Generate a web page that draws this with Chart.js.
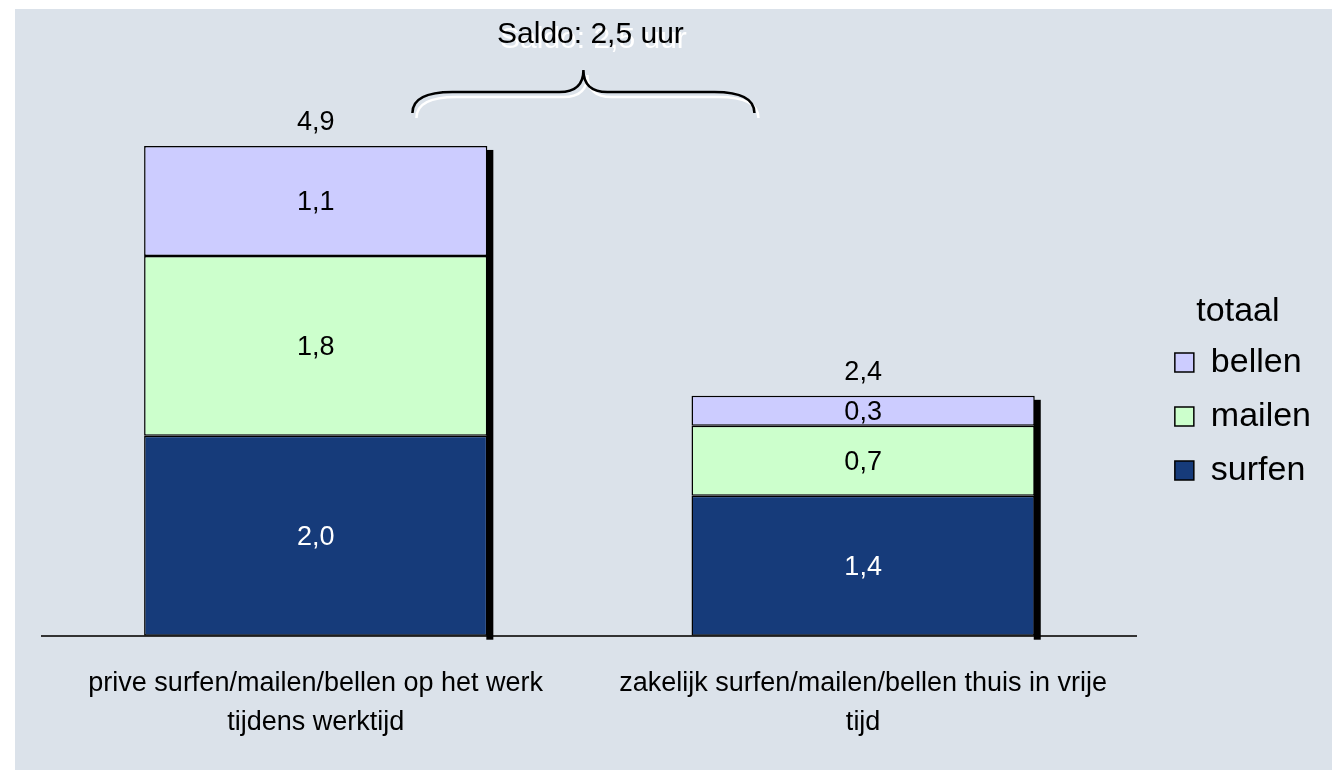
<!DOCTYPE html>
<html>
<head>
<meta charset="utf-8">
<script src="https://cdn.jsdelivr.net/npm/chart.js@4.4.1/dist/chart.umd.min.js"></script>
<style>
  body { margin: 0; background: #ffffff; }
  #wrap { width: 1332px; height: 770px; }
</style>
</head>
<body>
<div id="wrap"><canvas id="chart" width="1332" height="770"></canvas></div>
<script>
// gegevens uit de grafiek (uren per week)
const categories = [
    ['prive surfen/mailen/bellen op het werk', 'tijdens werktijd'],
    ['zakelijk surfen/mailen/bellen thuis in vrije', 'tijd']
];
const surfen = [2.0, 1.4];
const mailen = [1.8, 0.7];
const bellen = [1.1, 0.3];
const totals = [4.9, 2.4];
const saldo = 2.5;
const legendTitle = 'totaal';

const fmt = v => v.toFixed(1).replace('.', ',');
const FONT = '"Liberation Sans", Arial, sans-serif';
Chart.defaults.font.family = FONT;
Chart.defaults.color = '#000';

// achtergrond van het grafiekvlak
const backgroundPlugin = {
    id: 'bg',
    beforeDraw(chart) {
        const ctx = chart.ctx;
        ctx.save();
        ctx.fillStyle = '#dbe2ea';
        ctx.fillRect(15, 9, chart.width - 15, chart.height - 9);
        ctx.restore();
    }
};

// zwarte schaduw rechts van elke staaf
const shadowPlugin = {
    id: 'shadow',
    beforeDatasetsDraw(chart) {
        const ctx = chart.ctx;
        const first = chart.getDatasetMeta(0).data;
        const last = chart.getDatasetMeta(chart.data.datasets.length - 1).data;
        ctx.save();
        ctx.fillStyle = '#000';
        first.forEach((bar, i) => {
            const top = last[i].y;
            const right = bar.x + bar.width / 2;
            ctx.fillRect(right - 1, top + 4, 7, bar.base - top + 0);
        });
        ctx.restore();
    }
};

// waarden in de segmenten en totalen boven de staven
const labelPlugin = {
    id: 'labels',
    afterDatasetsDraw(chart) {
        const ctx = chart.ctx;
        ctx.save();
        ctx.font = '27px ' + FONT;
        ctx.textAlign = 'center';
        ctx.textBaseline = 'middle';
        chart.data.datasets.forEach((ds, d) => {
            chart.getDatasetMeta(d).data.forEach((bar, i) => {
                ctx.fillStyle = d === 0 ? '#ffffff' : '#000000';
                ctx.fillText(fmt(ds.data[i]), bar.x, (bar.y + bar.base) / 2 + 2);
            });
        });
        const top = chart.getDatasetMeta(chart.data.datasets.length - 1).data;
        ctx.fillStyle = '#000';
        top.forEach((bar, i) => {
            ctx.fillText(fmt(totals[i]), bar.x, bar.y - 23);
        });
        ctx.restore();
    }
};

// accolade met saldo
const bracePlugin = {
    id: 'brace',
    afterDraw(chart) {
        const ctx = chart.ctx;
        const area = chart.chartArea;
        const y = chart.scales.y;
        const cx = (area.left + area.right) / 2 - 6;
        const half = 171;
        const yTop = y.getPixelForValue(Math.max(...totals));
        const yEnd = yTop - 33, yLine = yTop - 54, yTip = yTop - 76;
        const L = cx - half, R = cx + half;
        function brace(dx, dy, color) {
            ctx.beginPath();
            ctx.moveTo(L + dx, yEnd + dy);
            ctx.quadraticCurveTo(L + dx, yLine + dy, L + 40 + dx, yLine + dy);
            ctx.lineTo(cx - 24 + dx, yLine + dy);
            ctx.quadraticCurveTo(cx + dx, yLine + dy, cx + dx, yTip + dy);
            ctx.quadraticCurveTo(cx + dx, yLine + dy, cx + 24 + dx, yLine + dy);
            ctx.lineTo(R - 40 + dx, yLine + dy);
            ctx.quadraticCurveTo(R + dx, yLine + dy, R + dx, yEnd + dy);
            ctx.strokeStyle = color;
            ctx.lineWidth = 2.5;
            ctx.stroke();
        }
        ctx.save();
        brace(4, 5, '#ffffff');
        brace(0, 0, '#000000');
        ctx.font = '30px ' + FONT;
        ctx.textAlign = 'center';
        ctx.textBaseline = 'middle';
        const txt = 'Saldo: ' + fmt(saldo) + ' uur';
        ctx.fillStyle = '#ffffff';
        ctx.fillText(txt, cx + 10, yTop - 106);
        ctx.fillStyle = '#000000';
        ctx.fillText(txt, cx + 7, yTop - 111);
        ctx.restore();
    }
};

const ctx = document.getElementById('chart').getContext('2d');
new Chart(ctx, {
    type: 'bar',
    data: {
        labels: categories,
        datasets: [
            { label: 'surfen', data: surfen, backgroundColor: '#163b7a' },
            { label: 'mailen', data: mailen, backgroundColor: '#ccffcc' },
            { label: 'bellen', data: bellen, backgroundColor: '#ccccff' }
        ].map(ds => Object.assign(ds, {
            borderColor: '#000',
            borderWidth: 1.5,
            borderSkipped: false,
            barPercentage: 0.627,
            categoryPercentage: 1
        }))
    },
    options: {
        responsive: false,
        animation: false,
        layout: { padding: { left: 42, right: 11, top: 36, bottom: 0 } },
        plugins: {
            tooltip: { enabled: false },
            legend: {
                position: 'right',
                reverse: true,
                title: {
                    display: true,
                    text: legendTitle,
                    font: { size: 34, lineHeight: 0.8 },
                    padding: { top: -4, bottom: 4 }
                },
                labels: {
                    font: { size: 34 },
                    boxWidth: 19,
                    boxHeight: 19,
                    padding: 20,
                    color: '#000'
                }
            }
        },
        scales: {
            x: {
                stacked: true,
                grid: { display: false, drawTicks: false },
                border: { display: true, color: '#333', width: 2 },
                ticks: {
                    font: { size: 27, lineHeight: 1.45 },
                    padding: 28,
                    color: '#000',
                    maxRotation: 0
                }
            },
            y: {
                stacked: true,
                position: 'right',
                min: 0,
                max: 6,
                grid: { display: false, drawTicks: false },
                border: { display: false },
                ticks: { display: false },
                afterFit(scale) { scale.width = 18; }
            }
        }
    },
    plugins: [backgroundPlugin, shadowPlugin, labelPlugin, bracePlugin]
});
</script>
</body>
</html>
